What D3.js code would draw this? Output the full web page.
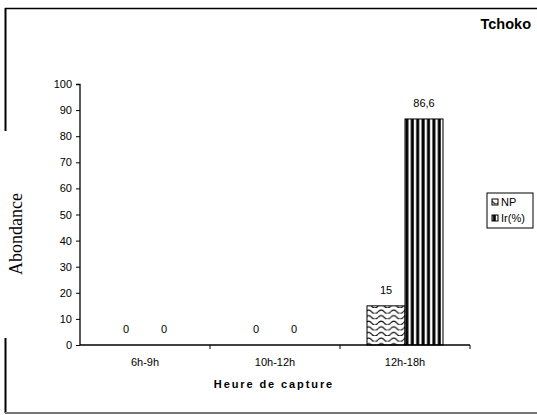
<!DOCTYPE html>
<html>
<head>
<meta charset="utf-8">
<script src="https://cdn.jsdelivr.net/npm/d3@7/dist/d3.min.js"></script>
<style>
  html, body { margin: 0; padding: 0; background: #fff; }
  svg { display: block; }
</style>
</head>
<body>
<script>
// Capture periods and series values
const categories = ["6h-9h", "10h-12h", "12h-18h"];
const seriesNames = ["NP", "Ir(%)"];
const npValues = [0, 0, 15];
const irValues = [0, 0, 86.6];
const valueLabels = [["0", "0", "15"], ["0", "0", "86,6"]];
const yTicks = [0, 10, 20, 30, 40, 50, 60, 70, 80, 90, 100];

const W = 537, H = 415;
const svg = d3.select("body").append("svg").attr("width", W).attr("height", H);

// Fill patterns: wavy lines for NP, vertical stripes for Ir
const defs = svg.append("defs");
const wave = defs.append("pattern").attr("id", "wave")
  .attr("patternUnits", "userSpaceOnUse").attr("width", 12.6).attr("height", 5.6);
wave.append("rect").attr("width", 12.6).attr("height", 5.6).attr("fill", "#fff");
wave.append("path").attr("d", "M0,3.8 Q3.15,0.2 6.3,3.8 T12.6,3.8")
  .attr("fill", "none").attr("stroke", "#000").attr("stroke-width", 1.1);
const stripe = defs.append("pattern").attr("id", "stripe")
  .attr("patternUnits", "userSpaceOnUse").attr("width", 5.4).attr("height", 10);
stripe.append("rect").attr("width", 5.4).attr("height", 10).attr("fill", "#fff");
stripe.append("rect").attr("x", 0.4).attr("width", 3).attr("height", 10).attr("fill", "#000");
const fills = ["url(#wave)", "url(#stripe)"];

// Outer frame
svg.append("line").attr("x1", 5).attr("x2", W + 2).attr("y1", 8.5).attr("y2", 8.5)
  .attr("stroke", "#000").attr("stroke-width", 1.5);
svg.append("line").attr("x1", 5.5).attr("x2", 5.5).attr("y1", 8).attr("y2", 131)
  .attr("stroke", "#000").attr("stroke-width", 2);
svg.append("line").attr("x1", 5.5).attr("x2", 5.5).attr("y1", 338).attr("y2", 413)
  .attr("stroke", "#000").attr("stroke-width", 2);
svg.append("line").attr("x1", 5).attr("x2", W + 2).attr("y1", 413).attr("y2", 413)
  .attr("stroke", "#777").attr("stroke-width", 2);

// Plot scales
const x0 = d3.scaleBand().domain(categories).range([80, 470]).paddingInner(0).paddingOuter(0);
const x1 = d3.scaleBand().domain(seriesNames).range([27, x0.bandwidth() - 27]).padding(0);
const y = d3.scaleLinear().domain([0, 100]).range([345, 84]);

const font = "Arial, 'Liberation Sans', sans-serif";

// Bars
const series = [npValues, irValues];
series.forEach((vals, s) => {
  svg.append("g").selectAll("rect").data(vals).join("rect")
    .attr("x", (d, i) => x0(categories[i]) + x1(seriesNames[s]))
    .attr("y", d => y(d))
    .attr("width", x1.bandwidth())
    .attr("height", d => y(0) - y(d))
    .attr("fill", fills[s])
    .attr("stroke", d => d > 0 ? "#000" : "none")
    .attr("stroke-width", 1);
  svg.append("g").selectAll("text").data(vals).join("text")
    .attr("x", (d, i) => x0(categories[i]) + x1(seriesNames[s]) + x1.bandwidth() / 2)
    .attr("y", d => y(d) - 12)
    .attr("text-anchor", "middle")
    .attr("font-family", font).attr("font-size", 11).attr("fill", "#000")
    .text((d, i) => valueLabels[s][i]);
});

// Y axis
const yAxis = svg.append("g").attr("transform", "translate(80,0)")
  .call(d3.axisLeft(y).tickValues(yTicks).tickSize(4).tickPadding(4));
yAxis.select(".domain").attr("stroke", "#000").attr("stroke-width", 1.3).attr("d", "M-4,84.5H0V345");
yAxis.selectAll("text").attr("font-family", font).attr("font-size", 11).attr("fill", "#000");
yAxis.selectAll("line").attr("stroke", "#000");

// X axis with ticks at category boundaries
const xAxis = svg.append("g").attr("transform", "translate(0,345)");
xAxis.append("line").attr("x1", 80).attr("x2", 470).attr("stroke", "#000").attr("stroke-width", 1.5);
xAxis.selectAll(".tk").data(categories).join("line").attr("class", "tk")
  .attr("x1", d => x0(d) + x0.bandwidth()).attr("x2", d => x0(d) + x0.bandwidth())
  .attr("y1", 0).attr("y2", 4).attr("stroke", "#000");
xAxis.selectAll("text").data(categories).join("text")
  .attr("x", d => x0(d) + x0.bandwidth() / 2).attr("y", 21)
  .attr("text-anchor", "middle").attr("font-family", font).attr("font-size", 11)
  .attr("fill", "#000").text(d => d);

// Axis titles
svg.append("text").attr("x", 274).attr("y", 388).attr("text-anchor", "middle")
  .attr("font-family", font).attr("font-size", 11).attr("font-weight", "bold")
  .attr("letter-spacing", 1.9).text("Heure de capture");
svg.append("text").attr("transform", "translate(22,234) rotate(-90)")
  .attr("text-anchor", "middle").attr("font-family", "'Liberation Serif', 'Times New Roman', serif")
  .attr("font-size", 18).text("Abondance");

// Title
svg.append("text").attr("x", 531).attr("y", 29).attr("text-anchor", "end")
  .attr("font-family", font).attr("font-size", 14.5).attr("font-weight", "bold").text("Tchoko");

// Legend
const lg = svg.append("g").attr("transform", "translate(487,193)");
lg.append("rect").attr("width", 46).attr("height", 35).attr("fill", "#fff")
  .attr("stroke", "#000").attr("stroke-width", 1);
seriesNames.forEach((n, i) => {
  lg.append("rect").attr("x", 5).attr("y", 6 + i * 16).attr("width", 6).attr("height", 6)
    .attr("fill", fills[i]).attr("stroke", "#000");
  lg.append("text").attr("x", 14).attr("y", 13 + i * 16)
    .attr("font-family", font).attr("font-size", 11).text(n);
});
</script>
</body>
</html>
